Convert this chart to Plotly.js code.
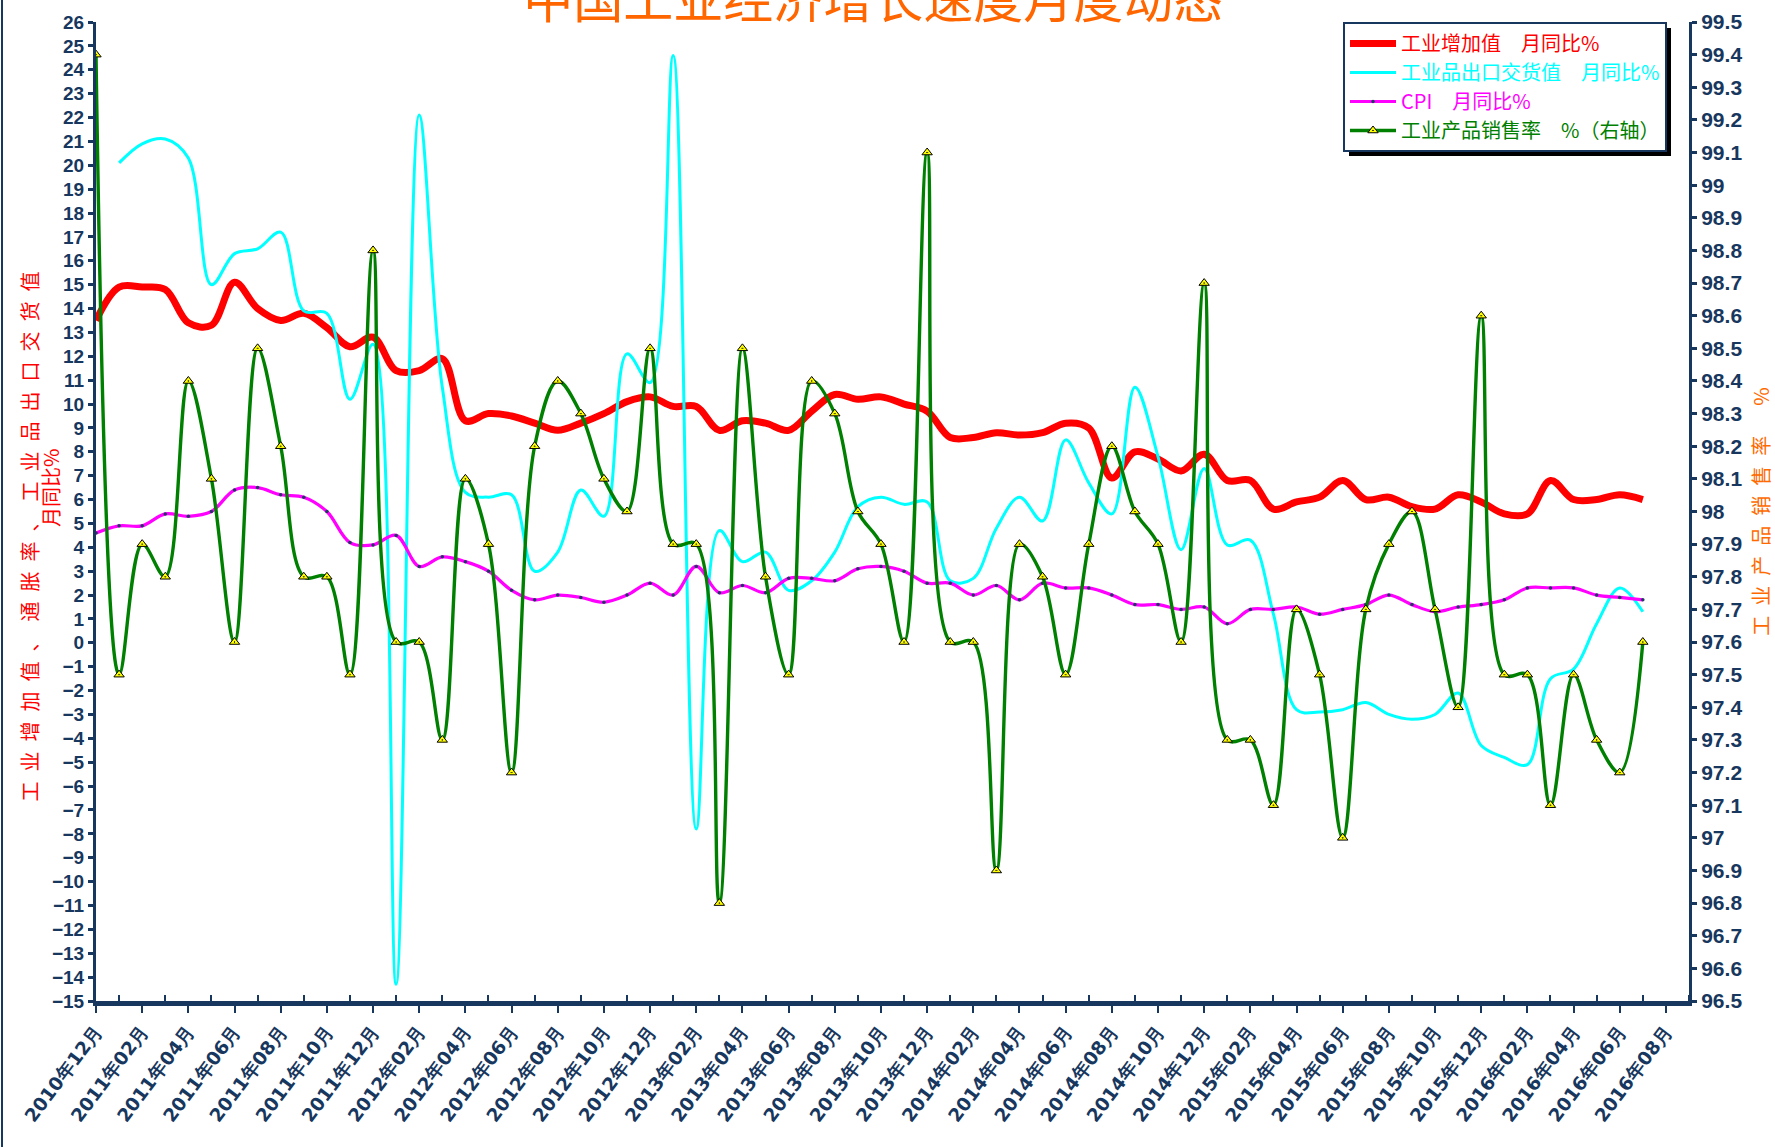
<!DOCTYPE html>
<html>
<head>
<meta charset="utf-8">
<script src="https://cdn.plot.ly/plotly-3.0.1.min.js"></script>
<style>html,body{margin:0;padding:0;background:#fff;}#chart{width:1775px;height:1147px;}</style>
</head>
<body>
<div id="chart"></div>
<script>
// Months of data (2010-12 .. 2016-07)
const months = [
 '2010年12月','2011年01月','2011年02月','2011年03月','2011年04月','2011年05月','2011年06月','2011年07月','2011年08月','2011年09月','2011年10月','2011年11月','2011年12月',
 '2012年01月','2012年02月','2012年03月','2012年04月','2012年05月','2012年06月','2012年07月','2012年08月','2012年09月','2012年10月','2012年11月','2012年12月',
 '2013年01月','2013年02月','2013年03月','2013年04月','2013年05月','2013年06月','2013年07月','2013年08月','2013年09月','2013年10月','2013年11月','2013年12月',
 '2014年01月','2014年02月','2014年03月','2014年04月','2014年05月','2014年06月','2014年07月','2014年08月','2014年09月','2014年10月','2014年11月','2014年12月',
 '2015年01月','2015年02月','2015年03月','2015年04月','2015年05月','2015年06月','2015年07月','2015年08月','2015年09月','2015年10月','2015年11月','2015年12月',
 '2016年01月','2016年02月','2016年03月','2016年04月','2016年05月','2016年06月','2016年07月'
];
// Category tick labels on the axis (every second month)
const tickLabels = [
 '2010年12月','2011年02月','2011年04月','2011年06月','2011年08月','2011年10月','2011年12月',
 '2012年02月','2012年04月','2012年06月','2012年08月','2012年10月','2012年12月',
 '2013年02月','2013年04月','2013年06月','2013年08月','2013年10月','2013年12月',
 '2014年02月','2014年04月','2014年06月','2014年08月','2014年10月','2014年12月',
 '2015年02月','2015年04月','2015年06月','2015年08月','2015年10月','2015年12月',
 '2016年02月','2016年04月','2016年06月','2016年08月'
];
const categoryCount = 70; // axis runs through 2016年09月

// 工业增加值 月同比%
const industrialValueAdded = [
 13.5,14.9,14.9,14.8,13.4,13.3,15.1,14.0,13.5,13.8,13.2,12.4,12.8,
 11.4,11.4,11.9,9.3,9.6,9.5,9.2,8.9,9.2,9.6,10.1,10.3,
 9.9,9.9,8.9,9.3,9.2,8.9,9.7,10.4,10.2,10.3,10.0,9.7,
 8.6,8.6,8.8,8.7,8.8,9.2,9.0,6.9,8.0,7.7,7.2,7.9,
 6.8,6.8,5.6,5.9,6.1,6.8,6.0,6.1,5.7,5.6,6.2,5.9,
 5.4,5.4,6.8,6.0,6.0,6.2,6.0
];
// 工业品出口交货值 月同比%
const exportDeliveryValue = [
 null,20.1,20.9,21.1,20.3,15.0,16.3,16.5,17.2,13.9,13.8,10.2,12.5,
 -14.3,22.1,10.7,6.3,6.1,6.2,3.0,3.8,6.4,5.3,12.1,10.9,
 24.6,-7.8,4.7,3.4,3.8,2.2,2.6,3.8,5.7,6.1,5.8,5.9,
 2.6,2.7,4.8,6.1,5.1,8.5,6.7,5.4,10.7,7.8,3.9,7.3,
 4.1,4.3,1.2,-2.8,-2.9,-2.8,-2.5,-3.0,-3.2,-3.0,-2.1,-4.3,
 -4.8,-5.1,-1.5,-1.1,0.8,2.3,1.3
];
// CPI 月同比%
const cpi = [
 4.6,4.9,4.9,5.4,5.3,5.5,6.4,6.5,6.2,6.1,5.5,4.2,4.1,
 4.5,3.2,3.6,3.4,3.0,2.2,1.8,2.0,1.9,1.7,2.0,2.5,
 2.0,3.2,2.1,2.4,2.1,2.7,2.7,2.6,3.1,3.2,3.0,2.5,
 2.5,2.0,2.4,1.8,2.5,2.3,2.3,2.0,1.6,1.6,1.4,1.5,
 0.8,1.4,1.4,1.5,1.2,1.4,1.6,2.0,1.6,1.3,1.5,1.6,
 1.8,2.3,2.3,2.3,2.0,1.9,1.8
];
// 工业产品销售率 % (右轴)
const salesRate = [
 99.4,97.5,97.9,97.8,98.4,98.1,97.6,98.5,98.2,97.8,97.8,97.5,98.8,
 97.6,97.6,97.3,98.1,97.9,97.2,98.2,98.4,98.3,98.1,98.0,98.5,
 97.9,97.9,96.8,98.5,97.8,97.5,98.4,98.3,98.0,97.9,97.6,99.1,
 97.6,97.6,96.9,97.9,97.8,97.5,97.9,98.2,98.0,97.9,97.6,98.7,
 97.3,97.3,97.1,97.7,97.5,97.0,97.7,97.9,98.0,97.7,97.4,98.6,
 97.5,97.5,97.1,97.5,97.3,97.2,97.6
];

const seriesNames = ['工业增加值　月同比%','工业品出口交货值　月同比%','CPI　月同比%','工业产品销售率　%（右轴）'];
const seriesColors = ['#FF0000','#00FFFF','#FF00FF','#008000'];
const titleText = '中国工业经济增长速度月度动态';
const leftTitleMain = '工业增加值、通胀率、工业品出口交货值';
const leftTitleSub = '月同比%';
const rightTitleMain = '工业产品销售率';
const rightTitleUnit = '%';

const SP = '\u2002';
function spaced(s){ return Array.from(s).join(SP); }

const xIdx = months.map((m, i) => i);
const navy = '#17375E';

function nm(i){ return '<span style="color:' + seriesColors[i] + '">' + seriesNames[i] + '</span>'; }

const traces = [
 {x: xIdx, y: industrialValueAdded, name: nm(0), type:'scatter', mode:'lines',
  line:{color:seriesColors[0], width:7, shape:'spline', smoothing:1}, text: months, yaxis:'y'},
 {x: xIdx, y: exportDeliveryValue, name: nm(1), type:'scatter', mode:'lines',
  line:{color:seriesColors[1], width:3, shape:'spline', smoothing:1}, text: months, yaxis:'y'},
 {x: xIdx, y: cpi, name: nm(2), type:'scatter', mode:'lines+markers',
  line:{color:seriesColors[2], width:3.2, shape:'spline', smoothing:1},
  marker:{symbol:'circle', size:3.5, color:'#1F3864'}, text: months, yaxis:'y'},
 {x: xIdx, y: salesRate, name: nm(3), type:'scatter', mode:'lines+markers',
  line:{color:seriesColors[3], width:3.4, shape:'spline', smoothing:1},
  marker:{symbol:'triangle-up-dot', size:9, color:'#FFFF00', line:{color:'#000000', width:1}}, text: months, yaxis:'y2'}
];

const tickVals = tickLabels.map((t, k) => 2*k);
const minorVals = [];
for (let i = 1; i < categoryCount; i += 2) minorVals.push(i);

const rightVals = [], rightText = [];
for (let k = 0; k <= 30; k++) { const v = +(96.5 + k*0.1).toFixed(1); rightVals.push(v); rightText.push(String(v)); }

const M = {l:96, r:86, t:22, b:146};
const W = 1775, H = 1147;
const PW = W - M.l - M.r, PH = H - M.t - M.b;
function px2x(px){ return (px - M.l) / PW; }
function py2y(py){ return 1 - (py - M.t) / PH; }

const layout = {
 width:W, height:H,
 margin:{l:M.l, r:M.r, t:M.t, b:M.b, pad:0},
 paper_bgcolor:'#FFFFFF', plot_bgcolor:'#FFFFFF',
 showlegend:true,
 title:{text:titleText, font:{family:'Noto Sans CJK SC', size:50, color:'#FF6600'},
        x:0.492, xanchor:'center', xref:'container', yref:'container', y:1, yanchor:'middle'},
 xaxis:{range:[0, categoryCount-1], tickmode:'array', tickvals:tickVals, ticktext:tickLabels,
        tickangle:-53, tickfont:{family:'DejaVu Sans', size:18.5, color:navy, weight:'bold'},
        showline:true, linecolor:navy, linewidth:5, ticks:'outside', ticklen:7, tickwidth:2, tickcolor:navy,
        minor:{tickmode:'array', tickvals:minorVals, ticks:'inside', ticklen:6, tickwidth:2, tickcolor:navy},
        showgrid:false, zeroline:false, automargin:false},
 yaxis:{range:[-15,26], tick0:0, dtick:1, showgrid:false, zeroline:false,
        showline:true, linecolor:navy, linewidth:3, ticks:'outside', ticklen:5, tickwidth:3, tickcolor:navy,
        tickfont:{family:'Liberation Sans Narrow, Liberation Sans', size:19, color:navy, weight:'bold'},
        title:{text:spaced(leftTitleMain) + '\u3000\u3000' + SP + '\u200B', font:{family:'Noto Sans CJK SC', size:20, color:'#FF0000'}, standoff:8},
        automargin:false},
 yaxis2:{overlaying:'y', side:'right', range:[96.5,99.5], tickmode:'array', tickvals:rightVals, ticktext:rightText,
        showgrid:false, zeroline:false, showline:true, linecolor:navy, linewidth:3,
        ticks:'outside', ticklen:5, tickwidth:3, tickcolor:navy,
        tickfont:{family:'Liberation Sans Narrow, Liberation Sans', size:21, color:navy, weight:'bold'},
        title:{text:spaced(rightTitleMain) + SP + '\u3000' + rightTitleUnit, font:{family:'Noto Sans CJK SC', size:20, color:'#FF6A00'}, standoff:14},
        automargin:false},
 legend:{x:0.7828, y:py2y(22), xanchor:'left', yanchor:'top', bgcolor:'#FFFFFF',
         bordercolor:navy, borderwidth:2, font:{family:'Noto Sans CJK SC', size:20},
         itemwidth:46, traceorder:'normal'},
 annotations:[
  {text:leftTitleSub, xref:'paper', yref:'paper', x:px2x(51), y:py2y(488), xanchor:'center', yanchor:'middle',
   textangle:-90, showarrow:false, font:{family:'Noto Sans CJK SC', size:20, color:'#FF0000'}}
 ],
 shapes:[
  {type:'line', xref:'paper', yref:'paper', x0:px2x(2), x1:px2x(2), y0:py2y(H), y1:py2y(0),
   line:{color:navy, width:2}}
 ]
};

Plotly.newPlot('chart', traces, layout, {displayModeBar:false, staticPlot:true}).then(function(gd){
  // legend drop shadow, offset down-right, computed from the rendered legend box
  const bg = gd.querySelector('.legend .bg');
  if (!bg) return;
  const r = bg.getBoundingClientRect();
  const c = gd.getBoundingClientRect();
  const x0 = r.left - c.left + 5, x1 = r.right - c.left + 5;
  const y0 = r.top - c.top + 5, y1 = r.bottom - c.top + 5;
  const shapes = layout.shapes.concat([
    {type:'rect', xref:'paper', yref:'paper', x0:px2x(x0), x1:px2x(x1), y0:py2y(y1), y1:py2y(y0),
     fillcolor:'#000000', line:{width:0}, layer:'above'}
  ]);
  return Plotly.relayout(gd, {shapes: shapes});
});
</script>
</body>
</html>
